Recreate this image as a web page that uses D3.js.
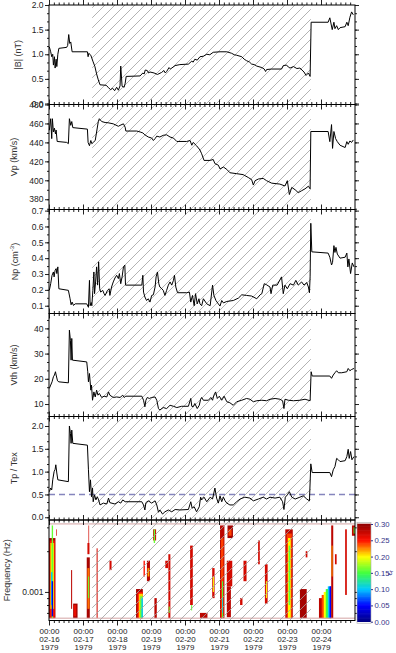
<!DOCTYPE html>
<html>
<head>
<meta charset="utf-8">
<script src="https://cdn.jsdelivr.net/npm/d3@7"></script>
<style>
  body { margin: 0; background: #fff; }
  svg { font-family: "Liberation Sans", Arial, Helvetica, sans-serif; }
</style>
</head>
<body>
<svg id="chart" width="396" height="653"></svg>
<script>
// ---- data (time = decimal day of February 1979) ----
var dayTicks = [16, 17, 18, 19, 20, 21, 22, 23, 24]
var dayLabels = ['02-16', '02-17', '02-18', '02-19', '02-20', '02-21', '02-22', '02-23', '02-24']
var hatchSpan = [17.27, 23.70]

var bMag = [[16.01,1.15],[16.05,1.05],[16.08,0.95],[16.11,1.0],[16.13,0.78],[16.16,0.95],[16.18,0.72],[16.21,0.9],[16.23,0.75],[16.26,1.0],[16.29,1.12],[16.52,1.14],[16.55,1.18],[16.58,1.4],[16.61,1.22],[16.64,1.25],[16.68,1.05],[17.13,1.05],[17.15,0.95],[17.17,1.02],[17.23,0.98],[17.29,0.86],[17.35,0.75],[17.40,0.6],[17.45,0.48],[17.50,0.38],[17.68,0.37],[17.74,0.33],[17.81,0.28],[17.87,0.31],[17.93,0.26],[17.99,0.33],[18.04,0.27],[18.09,0.36],[18.11,0.76],[18.15,0.35],[18.21,0.33],[18.24,0.41],[18.27,0.55],[18.68,0.56],[18.76,0.62],[18.80,0.6],[18.83,0.68],[18.89,0.67],[18.93,0.62],[18.97,0.64],[19.09,0.62],[19.19,0.59],[19.31,0.63],[19.38,0.67],[19.42,0.62],[19.46,0.65],[19.53,0.73],[19.57,0.7],[19.61,0.72],[19.71,0.77],[19.85,0.79],[20.10,0.8],[20.15,0.83],[20.20,0.86],[20.24,0.84],[20.29,0.9],[20.36,0.88],[20.44,0.95],[20.54,0.96],[20.64,1.0],[20.73,0.99],[20.83,1.04],[21.03,1.05],[21.23,1.05],[21.37,1.02],[21.45,0.99],[21.52,0.98],[21.67,0.95],[21.74,0.9],[21.81,0.87],[21.90,0.84],[21.96,0.8],[22.04,0.79],[22.11,0.76],[22.26,0.73],[22.33,0.7],[22.37,0.65],[22.40,0.69],[22.55,0.7],[22.84,0.7],[22.89,0.77],[22.99,0.78],[23.04,0.74],[23.09,0.72],[23.19,0.75],[23.29,0.71],[23.38,0.72],[23.50,0.64],[23.56,0.57],[23.63,0.62],[23.68,0.55],[23.71,1.65],[24.21,1.65],[24.26,1.74],[24.33,1.5],[24.38,1.65],[24.41,1.52],[24.46,1.58],[24.51,1.5],[24.56,1.54],[24.71,1.56],[24.76,1.65],[24.80,1.58],[24.85,1.75],[24.90,1.86],[24.95,1.8]]

var vP = [[16.01,452.8],[16.05,465],[16.08,444],[16.10,465],[16.13,451],[16.16,455],[16.19,449],[16.21,453],[16.24,441],[16.52,440],[16.57,438.7],[16.60,465],[16.64,458],[16.67,462],[16.70,455.6],[17.13,454],[17.15,440],[17.19,436.5],[17.23,442],[17.26,438.6],[17.30,440],[17.36,442],[17.40,451],[17.45,462],[17.48,465],[17.55,462],[17.65,461],[17.74,460.7],[17.89,459.6],[18.04,457],[18.09,458],[18.19,459.6],[18.24,456],[18.26,452],[18.58,452],[18.68,451],[18.76,450],[18.82,448],[18.92,445.7],[19.02,444.6],[19.07,442],[19.12,444],[19.17,446.6],[19.26,445.7],[19.36,447.5],[19.46,448],[19.56,445.7],[19.66,444.6],[19.76,441],[20.05,441],[20.15,442],[20.20,437],[20.24,440],[20.34,436.5],[20.44,432],[20.49,428],[20.56,421],[20.74,421],[20.83,422],[20.88,417.6],[20.98,416],[21.03,412],[21.13,414],[21.23,411.5],[21.32,408],[21.52,407],[21.71,406],[21.86,403],[21.96,400.7],[22.01,395],[22.06,399.6],[22.16,401.4],[22.30,402],[22.40,399.6],[22.55,397],[22.79,396],[22.94,394],[23.01,399.6],[23.07,385],[23.14,392.5],[23.24,390],[23.33,387],[23.43,389],[23.53,391],[23.63,393.8],[23.68,391],[23.70,451.5],[24.21,451.5],[24.26,440.8],[24.31,458.8],[24.34,433.7],[24.38,451.5],[24.43,444],[24.48,440.8],[24.56,437],[24.71,434.6],[24.76,440.8],[24.80,438],[24.85,441.5],[24.90,440],[24.95,442.6]]

var nP = [[16.01,0.197],[16.05,0.239],[16.09,0.292],[16.13,0.313],[16.15,0.282],[16.18,0.324],[16.21,0.334],[16.23,0.303],[16.26,0.345],[16.29,0.207],[16.57,0.197],[16.62,0.144],[16.65,0.106],[16.68,0.123],[16.72,0.102],[16.77,0.112],[17.11,0.112],[17.16,0.09],[17.19,0.26],[17.21,0.1],[17.24,0.12],[17.26,0.1],[17.29,0.197],[17.32,0.313],[17.34,0.176],[17.37,0.25],[17.40,0.345],[17.43,0.23],[17.46,0.377],[17.49,0.207],[17.52,0.186],[17.58,0.197],[17.62,0.176],[17.65,0.165],[17.72,0.197],[17.77,0.207],[17.79,0.165],[17.84,0.218],[17.89,0.25],[17.94,0.275],[17.99,0.292],[18.04,0.271],[18.07,0.303],[18.11,0.239],[18.15,0.282],[18.19,0.345],[18.23,0.356],[18.25,0.23],[18.73,0.23],[18.76,0.292],[18.78,0.186],[18.82,0.155],[18.87,0.133],[18.92,0.144],[18.97,0.123],[19.02,0.165],[19.07,0.169],[19.12,0.218],[19.15,0.282],[19.19,0.313],[19.23,0.239],[19.26,0.218],[19.32,0.207],[19.36,0.197],[19.41,0.165],[19.46,0.197],[19.51,0.23],[19.56,0.25],[19.61,0.23],[19.66,0.26],[19.69,0.292],[19.73,0.218],[19.78,0.182],[20.05,0.182],[20.13,0.186],[20.17,0.123],[20.22,0.165],[20.27,0.1],[20.31,0.176],[20.36,0.112],[20.41,0.144],[20.44,0.112],[20.49,0.1],[20.54,0.144],[20.64,0.112],[20.74,0.1],[20.81,0.23],[20.85,0.165],[20.91,0.133],[20.98,0.112],[21.03,0.098],[21.08,0.133],[21.13,0.118],[21.23,0.127],[21.42,0.133],[21.57,0.148],[21.67,0.169],[21.81,0.165],[21.96,0.161],[22.11,0.144],[22.21,0.169],[22.26,0.176],[22.33,0.239],[22.40,0.232],[22.50,0.218],[22.53,0.176],[22.58,0.23],[22.71,0.23],[22.84,0.282],[22.89,0.176],[22.94,0.23],[23.01,0.207],[23.09,0.239],[23.19,0.23],[23.26,0.26],[23.33,0.23],[23.43,0.25],[23.50,0.23],[23.58,0.246],[23.63,0.218],[23.66,0.182],[23.68,0.282],[23.70,0.62],[23.73,0.44],[24.21,0.432],[24.26,0.406],[24.31,0.357],[24.34,0.373],[24.38,0.479],[24.41,0.436],[24.44,0.468],[24.48,0.426],[24.56,0.4],[24.71,0.406],[24.76,0.432],[24.79,0.345],[24.82,0.395],[24.87,0.303],[24.92,0.37],[24.97,0.345]]

var vTh = [[16.01,16.2],[16.05,17.5],[16.09,18.8],[16.13,20.8],[16.16,21.5],[16.19,22.8],[16.21,21.5],[16.25,19.2],[16.29,18.8],[16.57,18.4],[16.60,39.3],[16.63,35.3],[16.65,27.4],[16.67,36],[16.69,27.4],[17.11,26.7],[17.14,22.8],[17.16,18.8],[17.19,22.1],[17.23,15.5],[17.25,17.5],[17.28,11.5],[17.32,14.8],[17.36,12.8],[17.40,15.5],[17.44,13.5],[17.48,14.2],[17.55,12.6],[17.62,13.1],[17.70,12.8],[17.75,14.8],[17.79,13.5],[17.89,12.6],[17.99,12.8],[18.09,12.6],[18.17,13.5],[18.21,12.6],[18.26,13.1],[18.73,13.1],[18.78,11.5],[18.82,8.9],[18.85,11.5],[18.89,12.6],[18.95,12.2],[19.02,12.6],[19.12,12.8],[19.17,11.5],[19.22,8.2],[19.26,7.6],[19.36,8.6],[19.46,8.2],[19.56,9.5],[19.66,9.1],[19.76,8.6],[19.90,9.1],[20.10,9.1],[20.17,12.2],[20.20,9.1],[20.24,8.9],[20.29,10.2],[20.36,8.2],[20.42,9.5],[20.46,11.9],[20.49,12.6],[20.54,11.5],[20.69,11.5],[20.76,12.6],[20.81,11.5],[20.85,13.5],[20.90,14.8],[20.95,12.2],[21.01,13.1],[21.08,11.5],[21.15,13.1],[21.23,10.9],[21.32,10.5],[21.42,9.5],[21.52,10.9],[21.67,11.5],[21.81,12.2],[21.91,11.9],[22.01,10.9],[22.11,11.3],[22.26,11.5],[22.40,11.3],[22.50,11.9],[22.65,12.2],[22.79,11.9],[22.87,11.3],[22.91,8.2],[22.94,11.9],[23.04,11.5],[23.19,11.3],[23.38,11.5],[23.53,11.9],[23.68,11.3],[23.71,22.8],[23.74,21.1],[24.26,21.1],[24.31,20.2],[24.36,21.5],[24.41,22.4],[24.46,23.2],[24.51,22.4],[24.61,22.4],[24.76,22.8],[24.80,24.1],[24.85,23.2],[24.90,23.7],[24.97,24.1]]

var tRatio = [[16.01,0.56],[16.05,0.64],[16.08,0.6],[16.11,0.82],[16.15,1.0],[16.18,1.05],[16.20,1.15],[16.23,0.97],[16.26,0.82],[16.57,0.78],[16.60,2.0],[16.63,1.84],[16.65,1.62],[16.67,1.91],[16.70,1.62],[17.13,1.58],[17.16,1.04],[17.19,0.56],[17.22,0.82],[17.25,0.45],[17.28,0.64],[17.30,0.34],[17.34,0.49],[17.38,0.38],[17.42,0.45],[17.46,0.38],[17.50,0.27],[17.60,0.31],[17.70,0.29],[17.75,0.42],[17.79,0.32],[17.94,0.29],[18.04,0.34],[18.11,0.31],[18.17,0.38],[18.24,0.34],[18.73,0.34],[18.78,0.27],[18.82,0.16],[18.85,0.32],[18.92,0.36],[19.02,0.31],[19.12,0.36],[19.17,0.27],[19.22,0.11],[19.26,0.16],[19.34,0.07],[19.41,0.12],[19.51,0.16],[19.61,0.12],[19.71,0.17],[19.85,0.16],[20.10,0.17],[20.17,0.34],[20.21,0.2],[20.27,0.23],[20.34,0.12],[20.42,0.23],[20.46,0.44],[20.49,0.38],[20.56,0.44],[20.64,0.34],[20.74,0.44],[20.81,0.4],[20.88,0.64],[20.93,0.42],[20.98,0.31],[21.03,0.47],[21.08,0.34],[21.13,0.44],[21.18,0.36],[21.23,0.31],[21.32,0.27],[21.42,0.27],[21.52,0.34],[21.62,0.4],[21.76,0.44],[21.91,0.42],[22.01,0.36],[22.16,0.4],[22.30,0.44],[22.40,0.4],[22.50,0.44],[22.65,0.42],[22.79,0.44],[22.87,0.34],[22.91,0.17],[22.95,0.44],[23.01,0.49],[23.07,0.56],[23.14,0.44],[23.24,0.4],[23.38,0.44],[23.48,0.47],[23.58,0.4],[23.66,0.36],[23.70,1.17],[23.74,0.98],[24.26,0.98],[24.31,0.89],[24.36,1.04],[24.41,1.11],[24.46,1.29],[24.51,1.26],[24.56,1.22],[24.71,1.24],[24.76,1.33],[24.80,1.49],[24.83,1.29],[24.87,1.44],[24.91,1.26],[24.97,1.33]]
var tRatioRef = 0.5

// spectrogram cells: [tStart, tEnd, fLow, fHigh, value]
var specBand = [0.00064, 0.00318]
var specCells = [
  [16.00,16.19,0.00064,0.0025,0.29],[16.02,16.17,0.00064,0.0024,0.25],[16.04,16.15,0.00075,0.0023,0.21],
  [16.06,16.13,0.0009,0.0022,0.19],[16.08,16.12,0.00064,0.0031,0.16],[16.06,16.10,0.0008,0.0014,0.10],
  [16.08,16.12,0.00066,0.0012,0.04],
  [16.21,16.23,0.0026,0.0029,0.27],
  [16.65,16.68,0.00075,0.00145,0.28],[16.71,16.84,0.00064,0.00082,0.29],[16.73,16.80,0.00066,0.0008,0.26],
  [17.13,17.19,0.0019,0.0023,0.27],[17.16,17.18,0.0023,0.0031,0.27],[17.11,17.20,0.00064,0.0018,0.29],
  [17.13,17.19,0.00075,0.0015,0.23],[17.15,17.18,0.0009,0.0013,0.16],
  [17.40,17.43,0.00064,0.0021,0.27],[17.78,17.84,0.00145,0.0017,0.27],
  [18.56,18.76,0.00064,0.00105,0.29],[18.60,18.76,0.00064,0.001,0.25],[18.64,18.76,0.00064,0.00097,0.21],
  [18.68,18.76,0.00064,0.00093,0.16],[18.72,18.76,0.00064,0.0009,0.1],
  [18.78,18.82,0.0013,0.0017,0.25],[18.88,18.97,0.0012,0.0017,0.28],[18.90,18.95,0.0013,0.0015,0.22],
  [19.06,19.15,0.0024,0.0029,0.27],[19.08,19.12,0.0023,0.0029,0.16],[19.10,19.17,0.00064,0.0009,0.28],
  [19.42,19.50,0.0015,0.0017,0.27],[19.51,19.57,0.00064,0.0019,0.27],[19.52,19.55,0.0007,0.00078,0.16],
  [20.15,20.23,0.0008,0.0022,0.27],[20.18,20.21,0.00073,0.0008,0.16],
  [20.44,20.66,0.00064,0.0007,0.28],[20.80,20.87,0.0009,0.0015,0.27],[20.82,20.85,0.001,0.0013,0.2],
  [21.03,21.16,0.00064,0.0031,0.28],[21.06,21.13,0.00064,0.0025,0.24],[21.09,21.12,0.00064,0.0012,0.15],
  [21.09,21.11,0.0007,0.0009,0.1],
  [21.25,21.41,0.0025,0.0031,0.29],[21.28,21.37,0.0026,0.0029,0.24],
  [21.23,21.39,0.0011,0.0017,0.27],[21.23,21.35,0.00065,0.0011,0.28],
  [21.72,21.81,0.0012,0.0017,0.27],[21.62,21.69,0.0008,0.0009,0.27],
  [22.15,22.20,0.0016,0.0024,0.27],[22.35,22.43,0.00082,0.0016,0.27],[22.38,22.41,0.0009,0.0012,0.2],
  [22.95,23.17,0.00064,0.0029,0.28],[22.99,23.14,0.00064,0.0027,0.24],[23.03,23.11,0.00064,0.0025,0.2],
  [23.05,23.09,0.0008,0.0022,0.16],
  [23.38,23.58,0.00064,0.00105,0.29],[23.55,23.60,0.0018,0.002,0.27],
  [23.94,24.30,0.00064,0.0009,0.28],[24.02,24.30,0.00064,0.00095,0.24],[24.08,24.30,0.00064,0.001,0.2],
  [24.14,24.30,0.00064,0.00105,0.15],[24.20,24.30,0.00064,0.0011,0.1],[24.25,24.30,0.00064,0.0011,0.05],
  [24.30,24.36,0.00064,0.0031,0.28],[24.31,24.34,0.0013,0.0022,0.22],
  [24.41,24.46,0.0016,0.0019,0.27],[24.71,24.76,0.00095,0.0029,0.27],
  [24.91,25.00,0.0026,0.0031,0.28],[24.96,25.00,0.0027,0.003,0.16]
]
var colorStops = [0, 0.05, 0.10, 0.15, 0.20, 0.25, 0.30]
var colorValues = ['#000080', '#0000ff', '#00c8ff', '#40ff40', '#ffff00', '#ff1000', '#900000']
var colorbarTicks = [0, 0.05, 0.10, 0.15, 0.20, 0.25, 0.30]

// ---- layout ----
var left = 49, right = 355
var bounds = [5, 104.5, 209.5, 313.5, 416.5, 520, 620.5]
var svg = d3.select('#chart')
var toDate = function (d) { return new Date(Date.UTC(1979, 1, 1) + (d - 1) * 864e5) }
var x = d3.scaleUtc().domain([toDate(16), toDate(25)]).range([left, right])
var minorDays = d3.range(16, 25, 1 / 7).filter(function (d) { return Math.abs(d - Math.round(d)) > 1e-6 })

var panels = [
  {data: bMag, domain: [-0.02, 2.0], ticks: [0, 0.5, 1, 1.5, 2], minor: 0.5 / 3, fmt: '.1f', label: '|B| (nT)', lx: 18},
  {data: vP, domain: [369.2, 480], ticks: [380, 400, 420, 440, 460, 480], minor: 10, fmt: 'd', label: 'Vp (km/s)', lx: 14},
  {data: nP, domain: [0.051, 0.707], ticks: [0.1, 0.2, 0.3, 0.4, 0.5, 0.6, 0.7], minor: 0.05, fmt: '.1f', label: 'Np', lx: 15},
  {data: vTh, domain: [5.05, 45.9], ticks: [10, 20, 30, 40], minor: 10 / 3, fmt: 'd', label: 'Vth (km/s)', lx: 14},
  {data: tRatio, domain: [-0.06, 2.208], ticks: [0, 0.5, 1, 1.5, 2], minor: 0.5 / 3, fmt: '.1f', label: 'Tp / Tex', lx: 14}
]

var defs = svg.append('defs')
defs.append('pattern').attr('id', 'hatch').attr('patternUnits', 'userSpaceOnUse')
  .attr('width', 10).attr('height', 10)
  .append('path').attr('d', 'M0,10L10,0M-2.5,2.5L2.5,-2.5M7.5,12.5L12.5,7.5')
  .attr('stroke', '#a0a0a0').attr('stroke-width', 0.8)

function timeTicks (g, y0, dir, labels) {
  var mk = function () { return dir < 0 ? d3.axisTop(x) : d3.axisBottom(x) }
  var gm = g.append('g').attr('transform', 'translate(0,' + y0 + ')')
    .call(mk().tickValues(minorDays.map(toDate)).tickSize(2.5).tickFormat(''))
  gm.select('.domain').remove()
  var ga = g.append('g').attr('transform', 'translate(0,' + y0 + ')')
    .call(mk().tickValues(dayTicks.map(toDate)).tickSize(5).tickPadding(2.5).tickFormat(''))
  ga.select('.domain').remove()
  g.selectAll('line').attr('stroke', '#222')
  if (labels) {
    ga.selectAll('.tick text').each(function (d, i) {
      var t = d3.select(this).attr('font-size', 8).attr('fill', '#222')
      ;['00:00', dayLabels[i], '1979'].forEach(function (s, k) {
        t.append('tspan').attr('x', 0).attr('dy', k ? '0.98em' : '0.75em').text(s)
      })
    })
  }
}

function yTicks (g, y, ticks, minor, fmt) {
  var dom = y.domain()
  var lo = Math.min(dom[0], dom[1]), hi = Math.max(dom[0], dom[1])
  var minorVals = minor.filter(function (v) { return v >= lo && v <= hi })
  var gl = g.append('g').attr('transform', 'translate(' + left + ',0)')
    .call(d3.axisLeft(y).tickValues(minorVals).tickSize(2).tickFormat(''))
  gl.select('.domain').remove()
  var gL = g.append('g').attr('transform', 'translate(' + left + ',0)')
    .call(d3.axisLeft(y).tickValues(ticks).tickSize(4).tickPadding(1.5).tickFormat(fmt))
  gL.select('.domain').remove()
  gL.selectAll('text').attr('font-size', 8.5).attr('fill', '#222')
  var gr = g.append('g').attr('transform', 'translate(' + right + ',0)')
    .call(d3.axisRight(y).tickValues(minorVals).tickSize(2).tickFormat(''))
  gr.select('.domain').remove()
  var gR = g.append('g').attr('transform', 'translate(' + right + ',0)')
    .call(d3.axisRight(y).tickValues(ticks).tickSize(4).tickFormat(''))
  gR.select('.domain').remove()
  g.selectAll('line').attr('stroke', '#222')
}

var line = d3.line().x(function (d) { return x(toDate(d[0])) })
var hx0 = x(toDate(hatchSpan[0])), hx1 = x(toDate(hatchSpan[1]))

// ---- spectrogram cells (drawn first, hatch goes over them) ----
var st = bounds[5], sb = bounds[6]
var fy = d3.scaleLog().domain([0.000615, 0.0034]).range([sb, st])
var color = d3.scaleLinear().domain(colorStops).range(colorValues).clamp(true)
var sg = svg.append('g')
sg.selectAll('rect.cell').data(specCells).join('rect').attr('class', 'cell')
  .attr('x', function (d) { return x(toDate(d[0])) })
  .attr('width', function (d) { return x(toDate(d[1])) - x(toDate(d[0])) })
  .attr('y', function (d) { return fy(d[3]) })
  .attr('height', function (d) { return fy(d[2]) - fy(d[3]) })
  .attr('fill', function (d) { return color(d[4]) })
sg.selectAll('line.band').data(specBand).join('line').attr('class', 'band')
  .attr('x1', left).attr('x2', right)
  .attr('y1', function (d) { return fy(d) }).attr('y2', function (d) { return fy(d) })
  .attr('stroke', '#d4a3a3').attr('stroke-width', 1)

// hatch over all six panels
svg.append('rect')
  .attr('x', hx0).attr('y', bounds[0])
  .attr('width', hx1 - hx0).attr('height', bounds[6] - bounds[0])
  .attr('fill', 'url(#hatch)')

panels.forEach(function (p, i) {
  var t = bounds[i], b = bounds[i + 1]
  var y = d3.scaleLinear().domain(p.domain).range([b, t])
  var g = svg.append('g')
  var minor = d3.range(Math.ceil(p.domain[0] / p.minor - 1e-6), Math.floor(p.domain[1] / p.minor + 1e-6) + 1)
    .map(function (k) { return k * p.minor })
  yTicks(g, y, p.ticks, minor, d3.format(p.fmt))
  timeTicks(g, t, -1, false)
  timeTicks(g, b, 1, false)
  if (p.data === tRatio) {
    g.append('line').attr('x1', left).attr('x2', right)
      .attr('y1', y(tRatioRef)).attr('y2', y(tRatioRef))
      .attr('stroke', '#8585bd').attr('stroke-width', 1.4).attr('stroke-dasharray', '6,4')
  }
  g.append('path').datum(p.data)
    .attr('fill', 'none').attr('stroke', '#000').attr('stroke-width', 1)
    .attr('stroke-linejoin', 'round')
    .attr('d', line.y(function (d) { return y(d[1]) }))
  g.append('rect').attr('x', left).attr('y', t).attr('width', right - left).attr('height', b - t)
    .attr('fill', 'none').attr('stroke', '#000').attr('stroke-width', 1)
  var lab = g.append('text')
    .attr('transform', 'translate(' + p.lx + ',' + ((t + b) / 2) + ') rotate(-90)')
    .attr('text-anchor', 'middle').attr('dy', '0.35em')
    .attr('font-size', 9).attr('fill', '#333').text(p.label)
  if (p.label === 'Np') {
    lab.append('tspan').text(' (cm')
    lab.append('tspan').attr('font-size', 6).attr('dy', '-0.7em').text('-3')
    lab.append('tspan').attr('dy', '0.45em').text(')')
  }
})

// ---- spectrogram axes ----
var gs = svg.append('g')
var fMinor = [0.0007, 0.0008, 0.0009, 0.002, 0.003]
yTicks(gs, fy, [0.001], fMinor, function () { return '0.001' })
timeTicks(gs, st, -1, false)
timeTicks(gs, sb, 1, true)
gs.append('rect').attr('x', left).attr('y', st).attr('width', right - left).attr('height', sb - st)
  .attr('fill', 'none').attr('stroke', '#000').attr('stroke-width', 1)
gs.append('text')
  .attr('transform', 'translate(7,' + ((st + sb) / 2) + ') rotate(-90)')
  .attr('text-anchor', 'middle').attr('dy', '0.35em')
  .attr('font-size', 9).attr('fill', '#333').text('Frequency (Hz)')

// ---- colorbar ----
var cb = d3.scaleLinear().domain([0, 0.3]).range([621.7, 524])
var cbx = 357, cbw = 14
var cg = svg.append('g')
cg.selectAll('rect').data(d3.range(0, 0.3, 0.0025)).join('rect')
  .attr('x', cbx).attr('width', cbw)
  .attr('y', function (d) { return cb(d + 0.0025) - 0.3 })
  .attr('height', function (d) { return cb(d) - cb(d + 0.0025) + 0.6 })
  .attr('fill', function (d) { return color(d + 0.00125) })
cg.append('rect').attr('x', cbx).attr('y', cb(0.3) - 1.5).attr('width', cbw).attr('height', cb(0) - cb(0.3) + 3)
  .attr('fill', 'none').attr('stroke', '#aaa').attr('stroke-width', 0.6)
var ca = cg.append('g').attr('transform', 'translate(' + (cbx + cbw) + ',0)')
  .call(d3.axisRight(cb).tickValues(colorbarTicks).tickSize(2).tickPadding(1.5).tickFormat(d3.format('.2f')))
ca.select('.domain').remove()
ca.selectAll('line').attr('stroke', '#333388')
ca.selectAll('text').attr('font-size', 7.7).attr('fill', '#333388')
cg.append('text')
  .attr('transform', 'translate(389,' + cb(0.15) + ') rotate(-90)')
  .attr('text-anchor', 'middle').attr('dy', '0.35em')
  .attr('font-size', 8).attr('fill', '#333388')
  .text('ε').append('tspan').attr('font-size', 5.5).attr('dy', '0.3em').text('r')
</script>
</body>
</html>
